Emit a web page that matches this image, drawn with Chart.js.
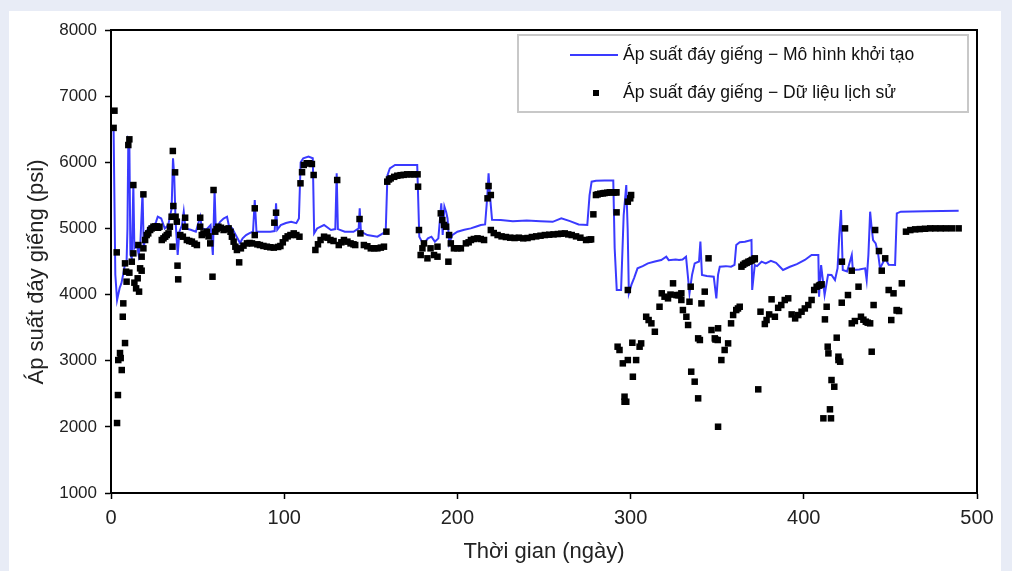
<!DOCTYPE html>
<html>
<head>
<meta charset="utf-8">
<script src="https://cdn.jsdelivr.net/npm/chart.js"></script>
<style>
  html, body { margin: 0; padding: 0; background: #e8ecf6; }
  #wrap { width: 1012px; height: 571px; }
</style>
</head>
<body>
<div id="wrap"><canvas id="c" width="1012" height="571"></canvas></div>
<script>
// series labels
const modelLabel = "Áp suất đáy giếng − Mô hình khởi tạo";
const histLabel = "Áp suất đáy giếng − Dữ liệu lịch sử";
const xTitle = "Thời gian (ngày)";
const yTitle = "Áp suất đáy giếng (psi)";

// axis ranges / tick steps
const xRange = [0, 500, 100];
const yRange = [1000, 8000, 1000];

// model (blue line)
const modelDays = [0.5,1.5,2.5,3.5,5,6,7,8,9,9.5,10,10.6,11.2,12,12.9,13.5,15,16,17,18.2,18.9,20,22,24,26,27,29,31,33,35,35.8,36.5,37.3,38.5,39.5,41,42,43,46,49,51.5,52.5,55,57.5,58.8,59.8,60.5,63,65,67,68,70,72,74.5,76,78,80,82,83,84,88,92,94.5,95.3,96,98,101,104,107,108.5,109.5,111,114,116.5,117.3,119,123,127,129.5,130.3,131,135,140,143,143.6,144.3,148,153.8,157,158.6,159.6,161,164,170,176.8,178,179.5,180.7,183,185,187,189,190.7,191.5,192.5,193.5,194.3,195.3,197,200,204,207.7,211,213.5,216,217.3,218,218.8,220,225,232,240,248,255,260,265,270,275,276.3,277.5,280,285,290,290.8,292,294.5,296,297.5,298.3,299,300.5,302,304,307,310,314,317.7,320.6,322,326,328,330,332,333,334,335.5,337,339.5,340.3,341.2,344,348,349.5,350.5,351.5,355,358,360,361,363,366,369.8,370.2,371.7,373,375.6,378,381,384,388,392,396,400.6,404.5,408.4,408.8,410,412,414,416,418,419.5,420.5,421.5,422.5,425,427.7,428.3,432,435.4,436.3,437.3,438.3,439.2,440,441.5,443,444,447,449,452.7,453.7,456,470,489.4];
const modelPsi = [6500,6500,4300,3917,4100,4170,4300,4450,4500,5000,6340,6300,4600,4550,5656,4700,4750,4600,4800,5555,4700,4930,5026,4980,5100,5177,5150,5000,5050,5300,6060,5800,5100,4600,4950,5050,5253,5000,4980,4950,5177,5000,4980,5050,4600,5580,5000,5100,5150,5177,5050,5000,4900,4779,4850,4900,4930,4950,5430,4950,4950,4950,4960,5380,4980,5050,5082,5100,5080,5150,6000,6060,6085,6060,4926,5000,5052,4976,4990,5833,4990,4950,4950,5000,5304,4950,4900,4875,4926,4950,5800,5909,5959,5959,5959,4875,4800,4774,4850,4875,4800,4850,5380,4900,5330,5250,5150,4774,4900,4951,4980,5001,5030,5052,5060,5500,5833,5500,5130,5127,5110,5120,5110,5100,5153,5110,5060,5052,5500,5707,5720,5725,5725,4700,4069,4069,5200,5656,5000,4019,4150,4250,4397,4430,4472,4500,4523,4573,4520,4530,4523,4530,4573,4300,4019,4300,4472,4500,4800,4296,4280,4270,3943,4300,4422,4430,4422,4450,4750,4790,4800,4825,4069,4447,4430,4497,4470,4510,4480,4372,4420,4460,4523,4598,4598,3968,4447,3993,4300,4296,4220,4400,4900,5278,4372,4350,4598,4372,4380,4397,4220,4600,5253,5000,4825,4774,4600,4397,4548,4450,4447,5228,5253,5260,5268];

// history (black squares)
const histDays = [1.5,2,3.3,3.5,4,4.2,5.2,5.6,6.2,6.8,7.1,8.1,8.1,8.7,9,10,10.6,10.6,12,12.9,12.9,13.5,14.5,15.4,15.8,16.2,16.8,17.7,17.7,18.7,18.7,19.7,20.6,21.5,22.6,23.5,24.5,25.5,26.4,27.2,28,29.3,30.3,31.3,32.2,33.2,34,35,35.5,35.7,36,37,37.3,38,38.4,38.8,40,41.5,42.8,42.8,43.8,45.2,46.7,48.2,49.6,51.5,51.5,52.4,53.4,55.3,56.3,57.3,58.6,59.2,60.2,61,62,63.5,65,66.5,67.9,69,69.8,70.8,71.8,72.7,74,75,76.5,78.5,80,81.4,83,83,84.5,86,88,90,92,94,94.3,95.3,96.5,97.8,99.2,100.7,102,103.6,105.5,107,108.8,109.4,110.3,111.3,113,114.5,116,117,118,119.5,121,123,125,126.7,128.5,130.6,131.5,133,134.5,136.5,138.3,140,141,143.5,144,146,148,150,152,153.8,155.8,157.6,159,159.5,160.5,161.5,163.5,165.3,167.2,169,171,173,175,177,177.3,177.8,178.8,179.8,180.7,182.7,184.5,186.5,188.5,188.5,190.4,191.3,192.3,193.5,194.8,195.2,196.2,198,200,202,204.9,206.5,207.8,209.5,211.6,213.5,215.4,217.4,218,219.3,219.3,221,223.2,225.5,228,230.5,233,235.5,238,240.5,243,245.5,248,250.5,253,255.5,258,260,262,264,266,268.5,271,274.3,276.2,277.2,278.5,280,281,282.5,284,285,286.5,288,289.7,290.3,291.7,291.7,291.9,292.5,293.6,295.5,298.4,296.5,296.5,297.5,298.4,298.4,299.8,300.3,301,301.3,303.2,305.2,306.1,309,310.4,312,314,316.7,318,319.6,321.6,323,324.5,326.4,327.4,328.3,329.3,329.3,330.2,332.2,333.2,334,334.7,335,337,339,339,340,340.9,342.8,345,346.7,348.6,349,350.3,350.5,350.5,352.4,354.3,356.3,358,359.2,361,362,363,364,365,366,367,368,369,369.8,370.2,371.7,371.7,373.7,375,377.5,378.5,380,381.4,383.3,385.2,387,389,391,393,395,396.8,398.7,400.6,402.6,404.5,406,407.4,408.8,409.4,410.3,411.3,412.2,413.2,413.8,414.2,415.1,415.7,416,417.6,419,420,420,421,421.9,422,423.8,425.5,427.7,427.7,429.5,431.6,433,434.4,435.8,436.9,438.3,439.2,440.3,441.2,443.4,445,447,449,450.5,451.8,453.7,453.7,455,456.6,459,461.5,464.3,467,470,473,475.9,479,482,485.5,489.4];
const histPsi = [6520,6780,4638,2058,2481,3010,3116,3040,2859,3665,3867,3267,4472,4346,4195,6261,6347,4331,4497,4623,5656,4180,4094,4246,4749,4044,4397,4361,4573,5515,4699,4825,4900,4925,4976,5000,5026,5030,5030,5010,5026,4825,4850,4875,4900,4925,5026,5177,4724,6171,5339,5848,5177,5102,4437,4230,4900,4875,5026,5162,4825,4810,4800,4770,4749,5026,5162,4900,4925,4951,4880,4774,4270,5581,4951,4990,5026,5010,4976,4990,5001,4950,4875,4800,4724,4674,4487,4699,4740,4774,4780,4774,5304,4900,4760,4749,4735,4724,4715,4710,5087,5238,4720,4734,4790,4850,4880,4900,4925,4900,4875,5682,5850,5959,5985,5985,5974,5808,4674,4760,4825,4875,4860,4825,4810,5732,4749,4790,4825,4800,4774,4760,4749,5142,4925,4749,4730,4699,4700,4699,4710,4724,4951,5707,5740,5757,5780,5797,5805,5810,5818,5818,5818,5818,5631,4976,4598,4699,4774,4548,4699,4598,4724,4573,5228,5127,5052,5026,4497,4900,4774,4699,4700,4699,4774,4790,4825,4840,4850,4840,4825,5455,5641,5505,4976,4930,4900,4880,4870,4860,4855,4860,4850,4855,4870,4880,4890,4900,4905,4910,4915,4920,4925,4910,4900,4880,4860,4825,4830,4835,5213,5505,5515,5525,5530,5535,5540,5546,5546,5546,5546,5546,5243,3212,3162,2960,3010,2456,2380,2380,4069,5404,5455,5505,3272,2758,3010,3212,3262,3665,3615,3565,3438,3816,4019,3968,3943,4000,4170,3993,3990,3993,4019,3918,3766,3665,3540,3892,4119,2834,2683,2431,3338,3313,3867,4044,4548,3464,3338,3320,3313,3490,2002,3010,3162,3262,3565,3691,3766,3790,3816,4422,4450,4470,4480,4497,4505,4515,4525,4535,4548,2567,3741,3555,3615,3700,3928,3665,3800,3842,3918,3943,3700,3640,3690,3741,3790,3842,3918,4069,4119,4135,4145,4155,2129,3625,3816,3212,3111,2265,2129,2708,2607,3348,3061,3010,2985,3877,4497,5001,3993,4361,3565,3600,4119,3665,3620,3590,3575,3565,3136,3842,4976,4658,4361,4548,4069,3615,4019,3766,3760,3751,4170,4951,4975,4986,4990,4995,5001,5001,5001,5001,5001,5001,5001,5001,5001];

const toPts = (xs, ys) => xs.map((x, i) => ({ x: x, y: ys[i] }));

const FONT = "'Liberation Sans', Arial, sans-serif";

// page panel, plot border, y title and the legend box inside the plot
const frame = {
  id: 'frame',
  beforeDraw(chart) {
    const ctx = chart.ctx;
    ctx.save();
    ctx.fillStyle = '#e8ecf6';
    ctx.fillRect(0, 0, chart.width, chart.height);
    ctx.fillStyle = '#ffffff';
    ctx.fillRect(9, 11, 992, 560);
    ctx.restore();
  },
  afterDraw(chart) {
    const ctx = chart.ctx;
    const a = chart.chartArea;
    ctx.save();
    ctx.strokeStyle = '#000';
    ctx.lineWidth = 2;
    ctx.strokeRect(a.left, a.top, a.right - a.left, a.bottom - a.top);

    // y axis title (sits a bit below the plot's middle in the original)
    ctx.save();
    ctx.translate(37, 272);
    ctx.rotate(-Math.PI / 2);
    ctx.font = '22px ' + FONT;
    ctx.fillStyle = '#222';
    ctx.textAlign = 'center';
    ctx.textBaseline = 'middle';
    ctx.fillText(yTitle, 0, 0);
    ctx.restore();

    // legend
    const bx = 518, by = 35, bw = 450, bh = 77;
    ctx.fillStyle = '#fff';
    ctx.fillRect(bx, by, bw, bh);
    ctx.strokeStyle = '#c8c8c8';
    ctx.lineWidth = 2;
    ctx.strokeRect(bx, by, bw, bh);

    const ds = chart.data.datasets;
    ctx.font = '17.5px ' + FONT;
    ctx.fillStyle = '#111';
    ctx.textBaseline = 'middle';
    ctx.textAlign = 'left';

    ctx.strokeStyle = ds[0].borderColor;
    ctx.lineWidth = ds[0].borderWidth;
    ctx.beginPath();
    ctx.moveTo(570, 55);
    ctx.lineTo(618, 55);
    ctx.stroke();
    ctx.fillText(ds[0].label, 623, 55);

    ctx.fillStyle = ds[1].pointBackgroundColor;
    ctx.fillRect(593, 90, 6, 6);
    ctx.fillStyle = '#111';
    ctx.fillText(ds[1].label, 623, 93);
    ctx.restore();
  }
};

new Chart(document.getElementById('c'), {
  type: 'scatter',
  data: {
    datasets: [
      {
        label: modelLabel,
        data: toPts(modelDays, modelPsi),
        showLine: true,
        borderColor: '#3a3aff',
        borderWidth: 2,
        pointRadius: 0,
        tension: 0,
        order: 2
      },
      {
        label: histLabel,
        data: toPts(histDays, histPsi),
        showLine: false,
        pointStyle: 'rect',
        pointRadius: 4.6,
        pointBorderWidth: 0,
        pointBackgroundColor: '#000',
        borderColor: '#000',
        order: 1
      }
    ]
  },
  options: {
    responsive: false,
    animation: false,
    devicePixelRatio: 1,
    layout: { padding: { left: 0, top: 30, right: 35, bottom: 0 } },
    plugins: {
      legend: { display: false },
      tooltip: { enabled: false }
    },
    scales: {
      x: {
        type: 'linear',
        min: xRange[0], max: xRange[1],
        afterFit(s) { s.height = 78; },
        ticks: { stepSize: xRange[2], color: '#222', font: { family: FONT, size: 20 }, padding: 7, callback: v => String(v) },
        grid: { display: true, drawOnChartArea: false, drawTicks: true, tickLength: 6, tickColor: '#000', tickWidth: 1.5 },
        border: { display: true, color: '#000', width: 2 },
        title: { display: true, text: xTitle, color: '#222', font: { family: FONT, size: 22 }, padding: { top: 0, bottom: 6 } }
      },
      y: {
        type: 'linear',
        min: yRange[0], max: yRange[1],
        afterFit(s) { s.width = 111; },
        ticks: { stepSize: yRange[2], color: '#222', font: { family: FONT, size: 17 }, padding: 8, callback: v => String(v) },
        grid: { display: true, drawOnChartArea: false, drawTicks: true, tickLength: 6, tickColor: '#000', tickWidth: 1.5 },
        border: { display: true, color: '#000', width: 2 },
        title: { display: false, text: yTitle }
      }
    }
  },
  plugins: [frame]
});
</script>
</body>
</html>
